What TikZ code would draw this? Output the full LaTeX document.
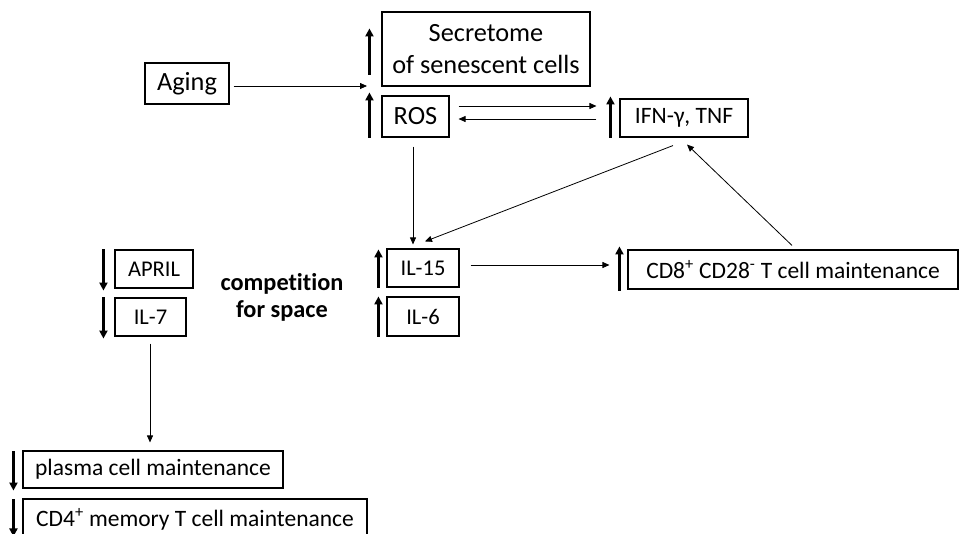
\documentclass[tikz,border=0pt]{standalone}
\usepackage{fontspec}
\setmainfont[Ligatures=CommonOff]{Carlito}
\usetikzlibrary{arrows.meta,calc}
\begin{document}
\begin{tikzpicture}[x=1pt,y=-1pt,
  box/.style={draw, line width=1.1pt, inner sep=0pt, align=center, font=\fontsize{22.5}{30}\selectfont},
  bigtext/.style={font=\fontsize{26.3}{32}\selectfont},
  midtext/.style={font=\fontsize{23.5}{30}\selectfont},
  conn/.style={line width=0.8pt, -{Triangle[length=7pt,width=6pt]}},
  bigarrow/.style={line width=2.6pt, -{Triangle[length=8pt,width=8pt]}}
]
\useasboundingbox (0,0) rectangle (961,533);
\clip (0,0) rectangle (961,533);
% boxes
\node[box, bigtext, minimum width=84pt, minimum height=41pt] (aging) at (187,83.5) {Aging};
\node[box, bigtext, minimum width=208pt, minimum height=74pt] (sec) at (486,49) {Secretome\\of senescent cells};
\node[box, bigtext, minimum width=67pt, minimum height=41pt] (ros) at (415.5,116.5) {ROS};
\node[box, midtext, minimum width=128pt, minimum height=38pt] (ifn) at (684,118) {IFN-γ, TNF};
\node[box, minimum width=72pt, minimum height=38pt] (il15) at (423,268) {IL-15};
\node[box, minimum width=72pt, minimum height=39pt] (il6) at (423,316.5) {IL-6};
\node[box, midtext, minimum width=330pt, minimum height=39pt] (cd8) at (793,269.5) {CD8\textsuperscript{+} CD28\textsuperscript{-} T cell maintenance};
\node[box, minimum width=78pt, minimum height=38pt] (april) at (154,269) {APRIL};
\node[box, minimum width=71pt, minimum height=38pt] (il7) at (150.5,317) {IL-7};
\node[box, midtext, minimum width=260pt, minimum height=37pt] (plasma) at (153,469.5) {plasma cell maintenance};
\node[box, midtext, minimum width=344pt, minimum height=40pt] (cd4) at (195,519) {CD4\textsuperscript{+} memory T cell maintenance};
\node[align=center, inner sep=0pt, font=\fontsize{24.3}{27}\selectfont\bfseries] (comp) at (282,297) {competition\\for space};
% thick up/down arrows
\draw[bigarrow] ($(sec.south west)+(-12,-12)$) -- ($(sec.north west)+(-12,17)$);
\draw[bigarrow] ($(ros.south west)+(-12,0)$) -- ($(ros.north west)+(-12,-3)$);
\draw[bigarrow] ($(ifn.south west)+(-9,0)$) -- ($(ifn.north west)+(-9,-2)$);
\draw[bigarrow] ($(il15.south west)+(-8,0)$) -- ($(il15.north west)+(-8,1)$);
\draw[bigarrow] ($(il6.south west)+(-8,0)$) -- ($(il6.north west)+(-8,0)$);
\draw[bigarrow] ($(cd8.south west)+(-8,1)$) -- ($(cd8.north west)+(-8,-3)$);
\draw[bigarrow] ($(april.north west)+(-11,0)$) -- ($(april.south west)+(-11,2)$);
\draw[bigarrow] ($(il7.north west)+(-11,0)$) -- ($(il7.south west)+(-11,2)$);
\draw[bigarrow] ($(plasma.north west)+(-9,1)$) -- ($(plasma.south west)+(-9,2)$);
\draw[bigarrow] ($(cd4.north west)+(-9,1)$) -- ($(cd4.north west)+(-9,38)$);
% connectors
\coordinate (agt) at (367,86);
\draw[conn, shorten <=4pt] (aging.east |- agt) -- (agt);
\coordinate (r1) at ($(ros.east)+(0,-10.5)$);
\coordinate (r2) at ($(ros.east)+(0,2.5)$);
\draw[conn, shorten <=9pt, shorten >=23pt] (r1) -- (r1 -| ifn.west);
\draw[conn, shorten <=23pt, shorten >=9pt] (r2 -| ifn.west) -- (r2);
\draw[conn, shorten <=9pt, shorten >=4pt] ($(ros.south)+(-2.5,0)$) -- ($(il15.north)+(-10,0)$);
\draw[conn] ($(ifn.south)+(-11,8)$) -- ($(il15.north)+(2,-7)$);
\draw[conn] ($(cd8.north)+(-1,-4)$) -- ($(ifn.south)+(3,7)$);
\coordinate (i1) at ($(il15.east)+(11,-3)$);
\draw[conn, shorten >=18pt] (i1) -- (i1 -| cd8.west);
\draw[conn] ($(il7.south)+(-0.5,7)$) -- ($(plasma.north)+(-3,-8)$);
\end{tikzpicture}
\end{document}
